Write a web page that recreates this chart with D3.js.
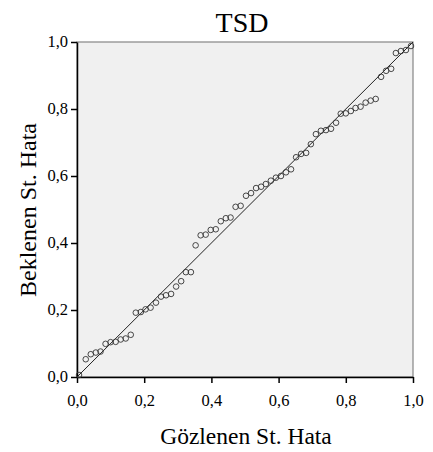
<!DOCTYPE html>
<html lang="tr">
<head>
    <meta charset="UTF-8">
    <title>TSD</title>
    <script src="https://d3js.org/d3.v7.min.js"></script>
    <style>
        body{ margin: 0; background: white; }
        svg text{ font-family: "Liberation Serif", "Times New Roman", serif; fill: black; }
        .axis path, .axis line{ stroke: black; }
    </style>
</head>
<body>
    <svg id="canvas" width="433" height="452"></svg>
    <script>
        let observed = [0.006,0.026,0.041,0.056,0.070,0.085,0.100,0.115,0.130,0.145,0.160,0.175,0.190,0.204,0.219,0.235,0.250,0.265,0.280,0.295,0.310,0.324,0.339,0.353,0.368,0.383,0.398,0.413,0.428,0.443,0.457,0.472,0.487,
                        0.503,0.518,0.533,0.548,0.562,0.577,0.592,0.607,0.622,0.637,0.652,0.667,0.682,0.696,0.711,0.726,0.741,0.756,0.771,0.785,0.800,0.815,0.829,0.844,0.859,0.874,0.889,0.905,0.920,0.935,0.949,0.964,0.979,0.994];
        let expected = [0.006,0.053,0.068,0.073,0.076,0.099,0.104,0.105,0.112,0.115,0.126,0.192,0.194,0.202,0.207,0.222,0.240,0.244,0.248,0.270,0.286,0.313,0.313,0.393,0.423,0.425,0.439,0.441,0.465,0.474,0.476,0.508,0.511,
                        0.541,0.549,0.564,0.568,0.576,0.586,0.595,0.600,0.611,0.620,0.656,0.666,0.669,0.695,0.725,0.735,0.737,0.741,0.759,0.786,0.787,0.794,0.803,0.807,0.819,0.825,0.830,0.896,0.914,0.920,0.967,0.973,0.976,0.988];
        let tickValues = [0, 0.2, 0.4, 0.6, 0.8, 1.0];
        let refLine = [0, 1];

        let svg = d3.select('svg');
        let mLeft = 77, mRight = 413, mTop = 42, mBottom = 377;

        let x = d3.scaleLinear().domain([0, 1]).range([mLeft, mRight]);
        let y = d3.scaleLinear().domain([0, 1]).range([mBottom, mTop]);
        let fmt = d => d3.format('.1f')(d).replace('.', ',');

        // plot background and frame
        svg.append('rect')
            .attr('x', mLeft).attr('y', mTop)
            .attr('width', mRight - mLeft).attr('height', mBottom - mTop)
            .attr('fill', '#f0f0f0')
            .attr('stroke', '#858585')
            .attr('stroke-width', 1.2);

        // axes
        let xAxis = svg.append('g')
            .attr('class', 'axis')
            .attr('transform', 'translate(0,' + mBottom + ')')
            .call(d3.axisBottom(x).tickValues(tickValues).tickFormat(fmt).tickSize(6).tickSizeOuter(0));
        xAxis.selectAll('text').attr('font-size', '16.5px').attr('y', 29).attr('dy', 0);
        xAxis.selectAll('line').attr('stroke', '#444').attr('stroke-width', 1.5);
        xAxis.select('.domain').attr('stroke-width', 1.5);

        let yAxis = svg.append('g')
            .attr('class', 'axis')
            .attr('transform', 'translate(' + mLeft + ',0)')
            .call(d3.axisLeft(y).tickValues(tickValues).tickFormat(fmt).tickSize(6).tickSizeOuter(0));
        yAxis.selectAll('text').attr('font-size', '16.5px').attr('x', -9).attr('dy', '0.3em');
        yAxis.selectAll('line').attr('stroke', '#444').attr('stroke-width', 1.5);
        yAxis.select('.domain').attr('stroke-width', 1.5);

        // reference line
        svg.append('line')
            .attr('x1', x(refLine[0])).attr('y1', y(refLine[0]))
            .attr('x2', x(refLine[1])).attr('y2', y(refLine[1]))
            .attr('stroke', '#222')
            .attr('stroke-width', 1);

        // points
        svg.append('g').selectAll('circle')
            .data(observed.map((d, i) => [d, expected[i]]))
            .enter()
            .append('circle')
            .attr('cx', d => x(d[0]))
            .attr('cy', d => y(d[1]))
            .attr('r', 2.8)
            .attr('fill', 'none')
            .attr('stroke', '#333')
            .attr('stroke-width', 0.9);

        // titles
        svg.append('text')
            .attr('x', 242).attr('y', 32)
            .attr('text-anchor', 'middle')
            .attr('font-size', '28px')
            .text('TSD');
        svg.append('text')
            .attr('x', 246).attr('y', 444)
            .attr('text-anchor', 'middle')
            .attr('font-size', '23.5px')
            .text('Gözlenen St. Hata');
        svg.append('text')
            .attr('transform', 'translate(36,210) rotate(-90)')
            .attr('text-anchor', 'middle')
            .attr('font-size', '24px')
            .text('Beklenen St. Hata');
    </script>
</body>
</html>
